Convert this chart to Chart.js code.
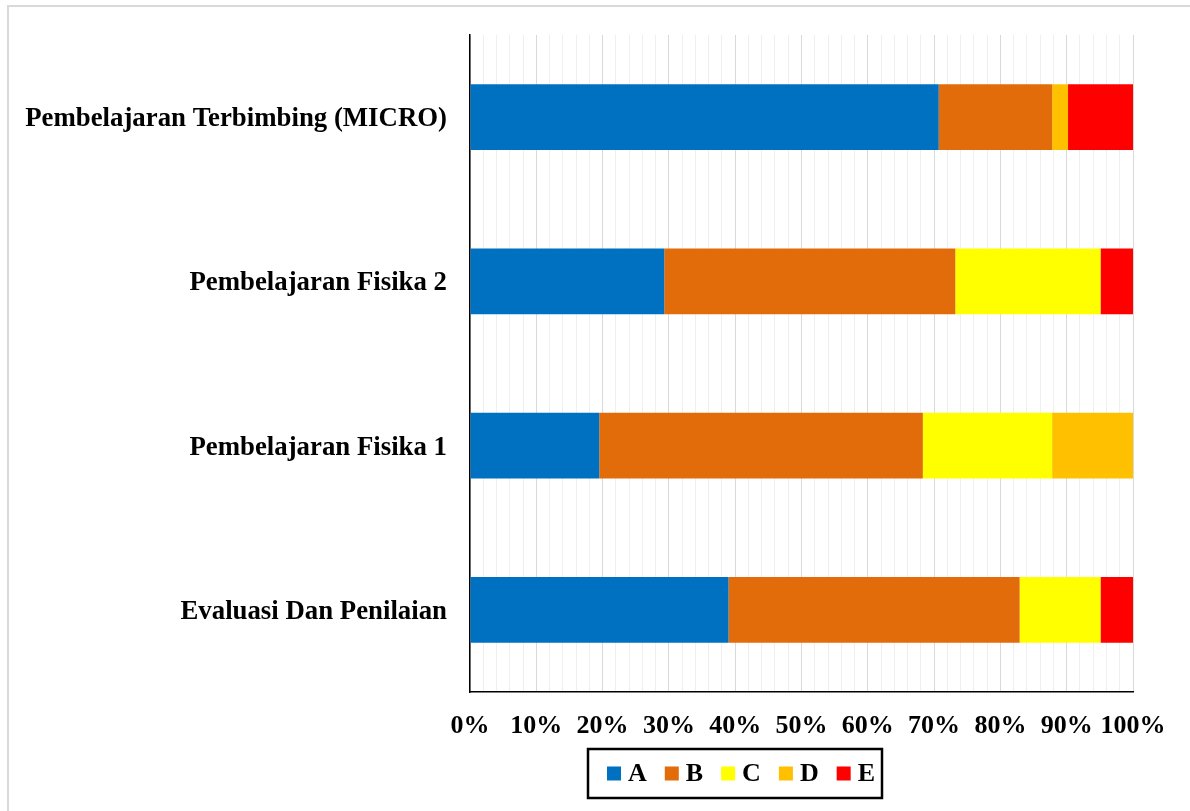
<!DOCTYPE html>
<html>
<head>
<meta charset="utf-8">
<script src="https://cdn.jsdelivr.net/npm/chart.js@4/dist/chart.umd.min.js"></script>
<style>
  html, body { margin: 0; padding: 0; background: #fff; }
  #wrap { width: 1190px; height: 811px; }
</style>
</head>
<body>
<div id="wrap"><canvas id="chart" width="1190" height="811"></canvas></div>
<script>
  'use strict'

  // categories, top to bottom
  const categories = [
    'Pembelajaran Terbimbing (MICRO)',
    'Pembelajaran Fisika 2',
    'Pembelajaran Fisika 1',
    'Evaluasi Dan Penilaian',
  ]

  // share of each grade, percent
  const gradeA = [70.7, 29.3, 19.5, 39.0]
  const gradeB = [17.1, 43.9, 48.8, 43.9]
  const gradeC = [0, 21.9, 19.5, 12.2]
  const gradeD = [2.4, 0, 12.2, 0]
  const gradeE = [9.8, 4.9, 0, 4.9]

  const seriesNames = ['A', 'B', 'C', 'D', 'E']
  const xTicks = [0, 10, 20, 30, 40, 50, 60, 70, 80, 90, 100]

  const colors = ['#0070C0', '#E36C0A', '#FFFF00', '#FFC000', '#FF0000']
  const FONT = "'Liberation Serif', 'Times New Roman', serif"

  const allSeries = [gradeA, gradeB, gradeC, gradeD, gradeE]

  // light grey frame of the chart area, only top and left show in the picture
  const framePlugin = {
    id: 'frame',
    beforeDraw(chart) {
      const ctx = chart.ctx
      ctx.save()
      ctx.strokeStyle = '#d9d9d9'
      ctx.lineWidth = 2
      ctx.beginPath()
      ctx.moveTo(8, 811)
      ctx.lineTo(8, 6)
      ctx.lineTo(1190, 6)
      ctx.stroke()
      ctx.restore()
    },
  }

  // boxed legend under the axis
  const legendPlugin = {
    id: 'boxLegend',
    afterDraw(chart) {
      const ctx = chart.ctx
      ctx.save()
      ctx.font = 'bold 26px ' + FONT
      ctx.textBaseline = 'middle'
      ctx.textAlign = 'left'
      const box = { x: 588, y: 749, w: 294, h: 49 }
      const cy = box.y + box.h / 2
      let x = box.x + 19
      chart.data.datasets.forEach((ds) => {
        ctx.fillStyle = ds.backgroundColor
        ctx.fillRect(x, cy - 7, 14, 14)
        ctx.fillStyle = '#000'
        ctx.fillText(ds.label, x + 21, cy + 1)
        x += 21 + ctx.measureText(ds.label).width + 18
      })
      ctx.strokeStyle = '#000'
      ctx.lineWidth = 2.5
      ctx.strokeRect(box.x, box.y, box.w, box.h)
      ctx.restore()
    },
  }

  new Chart(document.getElementById('chart'), {
    type: 'bar',
    data: {
      labels: categories,
      datasets: seriesNames.map((name, i) => ({
        label: name,
        data: allSeries[i],
        backgroundColor: colors[i],
        borderWidth: 0,
        categoryPercentage: 1,
        barPercentage: 0.4,
      })),
    },
    options: {
      indexAxis: 'y',
      responsive: false,
      animation: false,
      devicePixelRatio: 1,
      layout: { padding: { top: 35, right: 57, bottom: 0, left: 0 } },
      plugins: { legend: { display: false }, tooltip: { enabled: false } },
      scales: {
        x: {
          stacked: true,
          min: 0,
          max: 100,
          afterFit: (s) => { s.height = 119 },
          afterBuildTicks: (s) => {
            const t = []
            for (let v = 0; v <= 100; v += 2) t.push({ value: v })
            s.ticks = t
          },
          ticks: {
            autoSkip: false,
            maxRotation: 0,
            padding: 19,
            color: '#000',
            font: { family: FONT, size: 26, weight: 'bold' },
            callback: (v) => (xTicks.includes(v) ? v + '%' : ''),
          },
          grid: {
            drawTicks: false,
            color: (c) => (c.tick && c.tick.value % 10 === 0 ? '#d9d9d9' : '#efefef'),
            lineWidth: 1,
          },
          border: { display: true, color: '#000', width: 1.5 },
        },
        y: {
          stacked: true,
          afterFit: (s) => {
            s.width = 470
            s.paddingTop = 0
            s.paddingBottom = 0
          },
          ticks: {
            padding: 23,
            labelOffset: 2,
            color: '#000',
            font: { family: FONT, size: 26.8, weight: 'bold' },
          },
          grid: { display: false, drawTicks: false },
          border: { display: true, color: '#000', width: 1.5 },
        },
      },
    },
    plugins: [framePlugin, legendPlugin],
  })
</script>
</body>
</html>
